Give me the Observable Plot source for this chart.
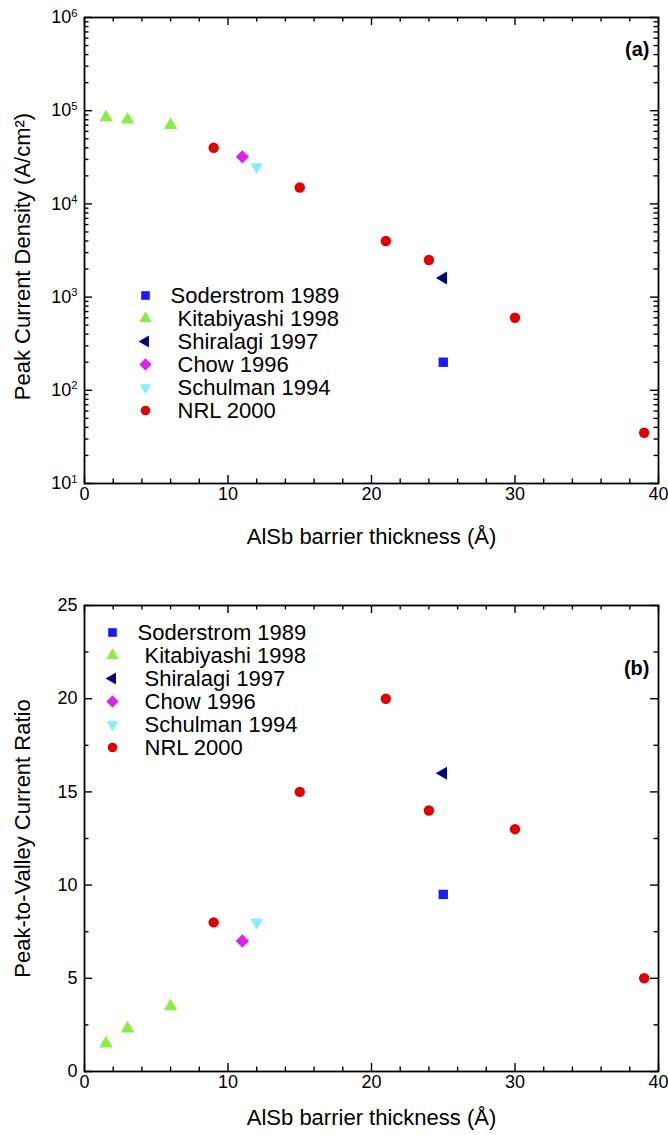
<!DOCTYPE html>
<html><head><meta charset="utf-8">
<script src="https://cdn.jsdelivr.net/npm/d3@7"></script>
<script src="https://cdn.jsdelivr.net/npm/@observablehq/plot@0.6"></script>
<style>
html,body{margin:0;padding:0;background:#fff;}
#chart{width:668px;}
#chart svg{display:block;}
</style></head><body><div id="chart"></div>
<script>
// ---- data ----
const seriesNames = ["Soderstrom 1989", "Kitabiyashi 1998", "Shiralagi 1997", "Chow 1996", "Schulman 1994", "NRL 2000"];
const seriesColors = ["#1a1aff", "#88ee44", "#000080", "#dd22ee", "#80eeff", "#e00000"];

const soderstromX = [25];
const soderstromPeak = [200];
const soderstromPvcr = [9.5];

const kitabiyashiX = [1.5, 3, 6];
const kitabiyashiPeak = [85000, 80000, 70000];
const kitabiyashiPvcr = [1.5, 2.3, 3.5];

const shiralagiX = [25];
const shiralagiPeak = [1600];
const shiralagiPvcr = [16];

const chowX = [11];
const chowPeak = [32000];
const chowPvcr = [7];

const schulmanX = [12];
const schulmanPeak = [25000];
const schulmanPvcr = [8];

const nrlX = [9, 15, 21, 24, 30, 39];
const nrlPeak = [40000, 15000, 4000, 2500, 600, 35];
const nrlPvcr = [8, 15, 20, 14, 13, 5];

const xTicks = [0, 10, 20, 30, 40];
const xMinorTicks = [2, 4, 6, 8, 12, 14, 16, 18, 22, 24, 26, 28, 32, 34, 36, 38];
const peakTicks = [1e1, 1e2, 1e3, 1e4, 1e5, 1e6];
const peakMinorMultipliers = [2, 3, 4, 5, 6, 7, 8, 9];
const pvcrTicks = [0, 5, 10, 15, 20, 25];
const pvcrMinorTicks = [2.5, 7.5, 12.5, 17.5, 22.5];

const xTitle = "AlSb barrier thickness (Å)";
const peakTitle = "Peak Current Density (A/cm²)";
const pvcrTitle = "Peak-to-Valley Current Ratio";

// ---- symbols ----
const S3 = Math.sqrt(3);
const triDown = {draw(ctx, size) { const y = -Math.sqrt(size / (3 * S3)); ctx.moveTo(0, -2 * y); ctx.lineTo(-S3 * y, y); ctx.lineTo(S3 * y, y); ctx.closePath(); }};
const triLeft = {draw(ctx, size) { const y = -Math.sqrt(size / (3 * S3)); ctx.moveTo(2 * y, 0); ctx.lineTo(-y, S3 * y); ctx.lineTo(-y, -S3 * y); ctx.closePath(); }};
const seriesSymbols = ["square", "triangle", triLeft, "diamond2", triDown, "circle"];
const seriesR = [5.3, 5, 4.8, 6, 4.7, 5.2];
const legendIndent = [0, 7, 7, 7, 7, 7];

const seriesX = [soderstromX, kitabiyashiX, shiralagiX, chowX, schulmanX, nrlX];
const seriesPeak = [soderstromPeak, kitabiyashiPeak, shiralagiPeak, chowPeak, schulmanPeak, nrlPeak];
const seriesPvcr = [soderstromPvcr, kitabiyashiPvcr, shiralagiPvcr, chowPvcr, schulmanPvcr, nrlPvcr];

const W = 668, ML = 84, MR = 10, FW = W - ML - MR;
const FONT = "'Liberation Sans', Arial, Helvetica, sans-serif";

function panel({ys, yType, yDomain, yTicks, yMinor, yFormat, height, marginTop, marginBottom, yTitle, yTitleDy, tag, tagDy, legX, legY, legStep, titleDy}) {
  const FH = height - marginTop - marginBottom;
  const majorLen = 8, minorLen = 4.5;
  const tickStyle = {stroke: "black", strokeWidth: 1.4};
  const marks = [
    Plot.tickX(xTicks, {x: d => d, insetTop: FH - majorLen, ...tickStyle}),
    Plot.tickX(xTicks, {x: d => d, insetBottom: FH - majorLen, ...tickStyle}),
    Plot.tickX(xMinorTicks, {x: d => d, insetTop: FH - minorLen, ...tickStyle}),
    Plot.tickX(xMinorTicks, {x: d => d, insetBottom: FH - minorLen, ...tickStyle}),
    Plot.tickY(yTicks, {y: d => d, insetRight: FW - majorLen, ...tickStyle}),
    Plot.tickY(yTicks, {y: d => d, insetLeft: FW - majorLen, ...tickStyle}),
    Plot.tickY(yMinor, {y: d => d, insetRight: FW - minorLen, ...tickStyle}),
    Plot.tickY(yMinor, {y: d => d, insetLeft: FW - minorLen, ...tickStyle}),
    Plot.frame({stroke: "black", strokeWidth: 1.8}),
    Plot.axisX({ticks: xTicks, tickSize: 0, tickPadding: 4, fontSize: 18, label: null, tickFormat: d => String(d)}),
    Plot.axisY({ticks: yTicks, tickSize: 0, tickPadding: 7, fontSize: 18, label: null, tickFormat: yFormat}),
    Plot.text([xTitle], {text: d => d, frameAnchor: "bottom", dy: titleDy, lineAnchor: "middle", textAnchor: "middle", fontSize: 22, fill: "black"}),
    Plot.text([yTitle], {text: d => d, frameAnchor: "left", dx: -62, dy: yTitleDy, rotate: -90, lineAnchor: "middle", textAnchor: "middle", fontSize: 22, fill: "black"}),
    Plot.text([tag], {text: d => d, frameAnchor: "top-right", dx: -9, dy: tagDy, lineAnchor: "middle", textAnchor: "end", fontSize: 20, fontWeight: "bold", fill: "black"})
  ];
  seriesNames.forEach((name, i) => {
    const rows = seriesX[i].map((x, j) => ({x, y: ys[i][j]}));
    marks.push(Plot.dot(rows, {x: "x", y: "y", symbol: seriesSymbols[i], r: seriesR[i], fill: seriesColors[i], stroke: "none"}));
    marks.push(Plot.dot([name], {frameAnchor: "top-left", dx: legX, dy: legY + i * legStep, symbol: seriesSymbols[i], r: seriesR[i] * 0.92, fill: seriesColors[i], stroke: "none"}));
    marks.push(Plot.text([name], {text: d => d, frameAnchor: "top-left", dx: legX + 25 + legendIndent[i], dy: legY + i * legStep, lineAnchor: "middle", textAnchor: "start", fontSize: 22, fill: "black"}));
  });
  return Plot.plot({
    width: W, height, marginLeft: ML, marginRight: MR, marginTop, marginBottom,
    style: {fontFamily: FONT, fontSize: "18px", background: "white", color: "black", overflow: "visible"},
    x: {domain: [0, 40]},
    y: {type: yType, domain: yDomain},
    marks
  });
}

const peakMinor = peakTicks.slice(0, -1).flatMap(d => peakMinorMultipliers.map(k => k * d));

const panelA = panel({
  ys: seriesPeak, yType: "log", yDomain: [10, 1e6], yTicks: peakTicks, yMinor: peakMinor,
  yFormat: d => String(Math.round(Math.log10(d))),
  height: 580, marginTop: 17, marginBottom: 97, yTitle: peakTitle, yTitleDy: 6, tag: "(a)", tagDy: 32,
  legX: 61, legY: 278, legStep: 23, titleDy: 53
});
const panelB = panel({
  ys: seriesPvcr, yType: "linear", yDomain: [0, 25], yTicks: pvcrTicks, yMinor: pvcrMinorTicks,
  yFormat: d => String(d),
  height: 555, marginTop: 25, marginBottom: 64, yTitle: pvcrTitle, yTitleDy: 0, tag: "(b)", tagDy: 63,
  legX: 28, legY: 27, legStep: 23, titleDy: 46
});

// superscript exponents on the log axis labels
panelA.querySelectorAll('[aria-label="y-axis tick label"] text').forEach(t => {
  const e = t.textContent;
  t.textContent = "10";
  const ts = document.createElementNS("http://www.w3.org/2000/svg", "tspan");
  ts.setAttribute("dy", "-0.6em");
  ts.setAttribute("font-size", "0.62em");
  ts.textContent = e;
  t.appendChild(ts);
});

document.getElementById("chart").append(panelA, panelB);
</script></body></html>
